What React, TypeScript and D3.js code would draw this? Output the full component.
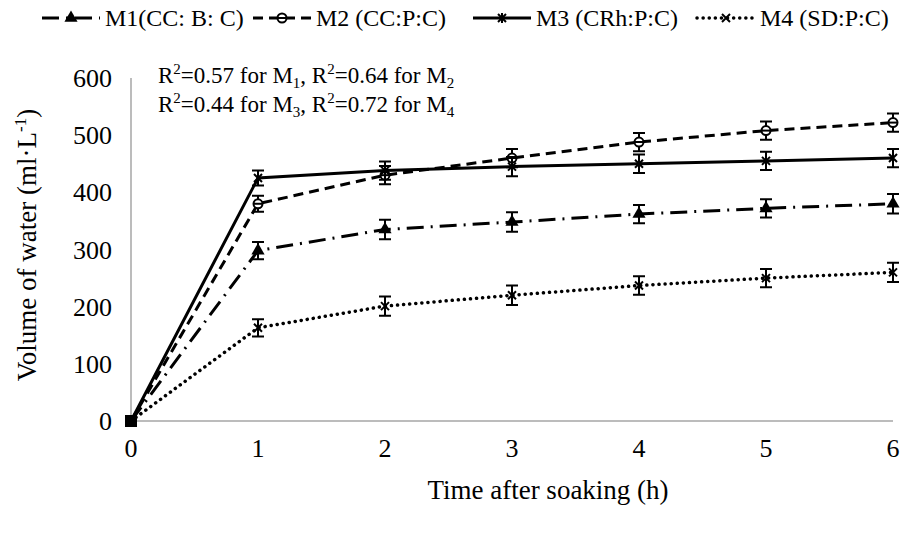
import React, { useEffect, useRef } from "react";
import * as d3 from "d3";

const hours = [0, 1, 2, 3, 4, 5, 6];
const m1Values = [0, 298, 335, 348, 362, 372, 380];
const m2Values = [0, 380, 430, 460, 488, 508, 522];
const m3Values = [0, 425, 438, 445, 450, 455, 460];
const m4Values = [0, 163, 201, 220, 237, 250, 260];
const m1Err = [0, 15, 17, 17, 16, 16, 17];
const m2Err = [0, 14, 16, 16, 16, 16, 16];
const m3Err = [0, 13, 16, 17, 16, 16, 16];
const m4Err = [0, 15, 17, 17, 16, 16, 17];
const seriesNames = ["M1(CC: B: C)", "M2 (CC:P:C)", "M3 (CRh:P:C)", "M4 (SD:P:C)"];
const yTicks = [0, 100, 200, 300, 400, 500, 600];

const FONT = "'Liberation Serif', 'Times New Roman', serif";

export default function App() {
  const ref = useRef(null);

  useEffect(() => {
    const svg = d3.select(ref.current);
    svg.selectAll("*").remove();

    const x = d3.scaleLinear().domain([0, 6]).range([131, 893]);
    const y = d3.scaleLinear().domain([0, 600]).range([421, 78]);

    const series = [
      { name: seriesNames[0], values: m1Values, err: m1Err, dash: "17,7,2,7", marker: "triangle", cap: "butt" },
      { name: seriesNames[1], values: m2Values, err: m2Err, dash: "10,6", marker: "circle", cap: "butt" },
      { name: seriesNames[2], values: m3Values, err: m3Err, dash: null, marker: "star", cap: "butt" },
      { name: seriesNames[3], values: m4Values, err: m4Err, dash: "0.1,6", marker: "cross", cap: "round" },
    ];

    // axes lines
    svg.append("line")
      .attr("x1", x(0)).attr("x2", x(0)).attr("y1", y(600)).attr("y2", y(0))
      .attr("stroke", "#a6a6a6").attr("stroke-width", 1.5);
    svg.append("line")
      .attr("x1", x(0)).attr("x2", x(6)).attr("y1", y(0)).attr("y2", y(0))
      .attr("stroke", "#a6a6a6").attr("stroke-width", 1.5);

    // tick labels
    svg.append("g").selectAll("text").data(yTicks).join("text")
      .attr("x", x(0) - 19).attr("y", (d) => y(d)).attr("dy", "0.35em")
      .attr("text-anchor", "end").attr("font-size", 26).attr("font-family", FONT)
      .text((d) => d);
    svg.append("g").selectAll("text").data(hours).join("text")
      .attr("x", (d) => x(d)).attr("y", y(0) + 27).attr("dy", "0.35em")
      .attr("text-anchor", "middle").attr("font-size", 26).attr("font-family", FONT)
      .text((d) => d);

    // axis titles
    const yt = svg.append("text")
      .attr("transform", `translate(27,245) rotate(-90)`)
      .attr("text-anchor", "middle").attr("dy", "0.35em")
      .attr("font-size", 27).attr("font-family", FONT);
    yt.append("tspan").text("Volume of water (ml·L");
    yt.append("tspan").attr("dy", -10).attr("font-size", 17).text("-1");
    yt.append("tspan").attr("dy", 10).text(")");
    svg.append("text")
      .attr("x", 548).attr("y", 490).attr("dy", "0.35em")
      .attr("text-anchor", "middle").attr("font-size", 27).attr("font-family", FONT)
      .text("Time after soaking (h)");

    // R2 annotation
    const ann = [["0.57", "1", "0.64", "2"], ["0.44", "3", "0.72", "4"]];
    ann.forEach((a, i) => {
      const t = svg.append("text")
        .attr("x", 158).attr("y", 83 + i * 29)
        .attr("font-size", 23).attr("font-family", FONT);
      t.append("tspan").text("R");
      t.append("tspan").attr("dy", -9).attr("font-size", 15).text("2");
      t.append("tspan").attr("dy", 9).text(`=${a[0]} for M`);
      t.append("tspan").attr("dy", 5).attr("font-size", 15).text(a[1]);
      t.append("tspan").attr("dy", -5).text(", R");
      t.append("tspan").attr("dy", -9).attr("font-size", 15).text("2");
      t.append("tspan").attr("dy", 9).text(`=${a[2]} for M`);
      t.append("tspan").attr("dy", 5).attr("font-size", 15).text(a[3]);
    });

    const drawMarker = (g, kind, cx, cy) => {
      if (kind === "triangle") {
        g.append("path")
          .attr("d", d3.symbol(d3.symbolTriangle, 75)())
          .attr("transform", `translate(${cx},${cy})`).attr("fill", "#000");
      } else if (kind === "circle") {
        g.append("circle").attr("cx", cx).attr("cy", cy).attr("r", 4.5)
          .attr("fill", "#fff").attr("stroke", "#000").attr("stroke-width", 2);
        g.append("line").attr("x1", cx - 4).attr("x2", cx + 4).attr("y1", cy).attr("y2", cy)
          .attr("stroke", "#000").attr("stroke-width", 2);
      } else if (kind === "star") {
        g.append("path")
          .attr("d", `M${cx - 4},${cy - 4}L${cx + 4},${cy + 4}M${cx - 4},${cy + 4}L${cx + 4},${cy - 4}M${cx},${cy - 5}L${cx},${cy + 5}`)
          .attr("stroke", "#000").attr("stroke-width", 2);
      } else {
        g.append("path")
          .attr("d", `M${cx - 4},${cy - 4}L${cx + 4},${cy + 4}M${cx - 4},${cy + 4}L${cx + 4},${cy - 4}`)
          .attr("stroke", "#000").attr("stroke-width", 2);
      }
    };

    const line = d3.line().x((d) => x(d[0])).y((d) => y(d[1]));

    series.forEach((s) => {
      const g = svg.append("g");
      const pts = hours.map((h, i) => [h, s.values[i]]);
      g.append("path").datum(pts)
        .attr("d", line).attr("fill", "none").attr("stroke", "#000")
        .attr("stroke-width", s.cap === "round" ? 3.5 : 3)
        .attr("stroke-linecap", s.cap)
        .attr("stroke-dasharray", s.dash);
      // error bars
      pts.forEach((p, i) => {
        if (i === 0) return;
        const e = s.err[i];
        const cx = x(p[0]);
        g.append("path")
          .attr("d", `M${cx},${y(p[1] + e)}V${y(p[1] - e)}M${cx - 6},${y(p[1] + e)}H${cx + 6}M${cx - 6},${y(p[1] - e)}H${cx + 6}`)
          .attr("stroke", "#000").attr("stroke-width", 2).attr("fill", "none");
      });
      pts.forEach((p, i) => {
        if (i === 0) return;
        drawMarker(g, s.marker, x(p[0]), y(p[1]));
      });
    });

    // origin marker (overlapping markers)
    svg.append("rect").attr("x", x(0) - 6).attr("y", y(0) - 6).attr("width", 12).attr("height", 12).attr("fill", "#000");

    // legend
    const legendX = [42, 253, 473, 697];
    series.forEach((s, i) => {
      const lx = legendX[i];
      const ly = 18;
      const g = svg.append("g");
      g.append("line").attr("x1", lx).attr("x2", lx + 58).attr("y1", ly).attr("y2", ly)
        .attr("stroke", "#000").attr("stroke-width", s.cap === "round" ? 3.5 : 3)
        .attr("stroke-linecap", s.cap).attr("stroke-dasharray", s.dash);
      drawMarker(g, s.marker, lx + 29, ly);
      g.append("text").attr("x", lx + 63).attr("y", ly).attr("dy", "0.35em")
        .attr("font-size", 24).attr("font-family", FONT).text(s.name);
    });
  }, []);

  return (
    <svg
      ref={ref}
      width={911}
      height={533}
      style={{ position: "absolute", left: 0, top: 0, background: "#fff" }}
    ></svg>
  );
}
